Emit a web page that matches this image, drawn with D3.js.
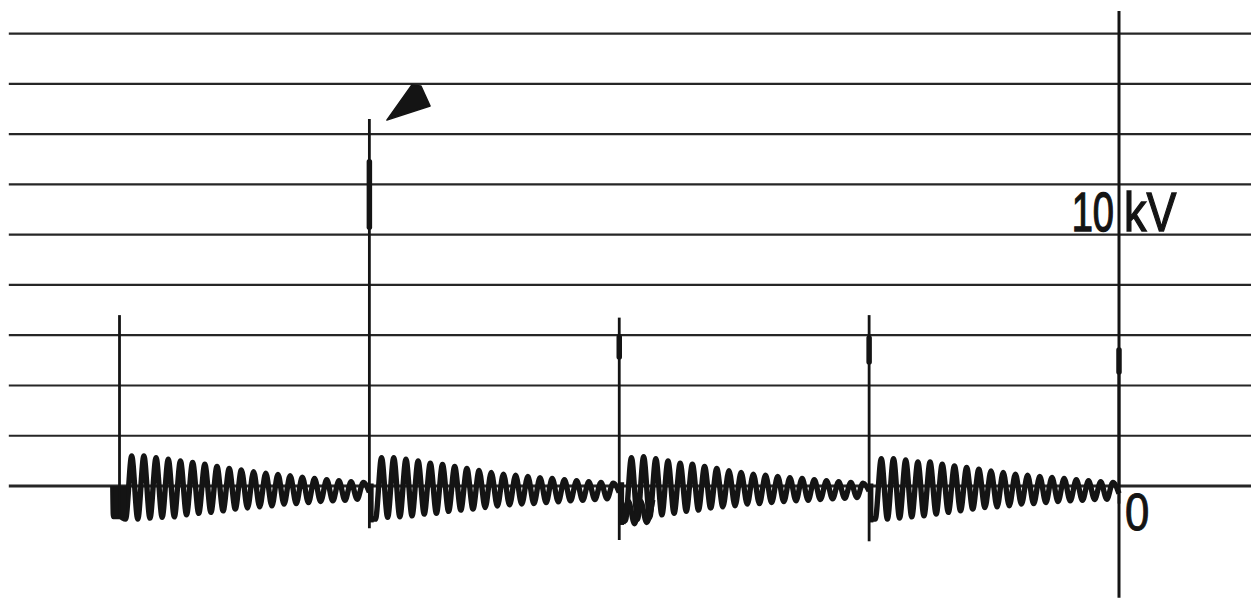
<!DOCTYPE html>
<html>
<head>
<meta charset="utf-8">
<script src="https://cdn.jsdelivr.net/npm/d3@7"></script>
<style>
  html, body { margin: 0; padding: 0; background: #fff; }
  svg { display: block; }
</style>
</head>
<body>
<svg id="chart" width="1251" height="598"></svg>
<script>
// ---------------- data ----------------
// time in units of one discharge interval, voltage in kV
const spikeTimes      = [0, 1, 2, 3, 4];
const spikeTopKV      = [6.8, 14.6, 6.7, 6.8, 5.4];
const spikeBottomKV   = [-1.25, -1.68, -2.15, -2.2, -0.7];
const spikeHeavyTopKV = [null, 12.9, 5.93, 5.89, 5.41];
const spikeHeavyBotKV = [null, 10.3, 5.13, 4.93, 4.54];

// damped ringing after each discharge: 20 positive and 20 negative extrema per interval
const burst1Peaks   = [1.20, 1.20, 1.13, 1.07, 1.00, 0.94, 0.87, 0.78, 0.70, 0.64, 0.57, 0.51, 0.46, 0.41, 0.35, 0.30, 0.25, 0.21, 0.17, 0.14];
const burst1Troughs = [-1.32, -1.32, -1.28, -1.25, -1.23, -1.15, -1.09, -1.05, -0.99, -0.92, -0.88, -0.83, -0.79, -0.72, -0.70, -0.66, -0.62, -0.59, -0.57, -0.53];
const burst2Peaks   = [1.13, 1.13, 1.07, 1.00, 0.91, 0.86, 0.78, 0.70, 0.62, 0.54, 0.47, 0.43, 0.38, 0.33, 0.30, 0.25, 0.21, 0.17, 0.14, 0.11];
const burst2Troughs = [-1.32, -1.25, -1.23, -1.19, -1.12, -1.09, -1.01, -0.96, -0.92, -0.86, -0.80, -0.75, -0.72, -0.70, -0.66, -0.63, -0.59, -0.57, -0.54, -0.51];
const burst3Peaks   = [1.13, 1.17, 1.09, 1.00, 0.91, 0.87, 0.78, 0.70, 0.61, 0.54, 0.47, 0.43, 0.38, 0.33, 0.30, 0.25, 0.21, 0.17, 0.14, 0.11];
const burst3Troughs = [-1.38, -1.32, -1.25, -1.15, -1.09, -1.01, -0.96, -0.88, -0.83, -0.79, -0.72, -0.70, -0.66, -0.62, -0.59, -0.57, -0.54, -0.51, -0.49, -0.46];
const burst4Peaks   = [1.09, 1.09, 1.04, 0.96, 0.96, 0.87, 0.80, 0.74, 0.67, 0.60, 0.54, 0.47, 0.43, 0.38, 0.34, 0.30, 0.25, 0.21, 0.17, 0.14];
const burst4Troughs = [-1.32, -1.32, -1.28, -1.23, -1.19, -1.12, -1.05, -0.99, -0.92, -0.86, -0.83, -0.79, -0.72, -0.70, -0.66, -0.62, -0.59, -0.57, -0.54, -0.53];
const burstStartKV  = [-1.22, -1.3, -1.35, -1.3];
const burstEndKV    = [-0.25, -0.25, -0.2, -0.3];
const cyclesPerInterval = 20.5;
// lead-in of the trace before the first discharge (cycle offsets, kV)
const leadInCycles = [-0.55, -0.5];
const leadInKV     = [0, -1.22];
// onset blocks right after each discharge (kV band, width in cycles)
const onsetTopKV    = [0.0, 0.1, 0.15, 0.1];
const onsetBottomKV = [-1.25, -1.45, -1.55, -1.45];
const onsetCycles   = [0.55, 0.35, 0.4, 0.35];
// second (double-exposed) trace at the start of the third interval (cycle offsets, kV)
const echo3Cycles = [0.3, 0.75, 1.25, 1.75, 2.25, 2.75];
const echo3KV     = [-1.5, -0.6, -1.5, -0.6, -1.45, -0.55];

// grid / axis
const gridKV         = [0, 2, 4, 6, 8, 10, 12, 14, 16, 18];
const gridTimeRange  = [-0.443, 4.53];
const axisTime       = 4;
const axisKVRange    = [-4.45, 18.9];
const scaleLabelKV   = 10;
const scaleLabels    = ["10", "kV"];
const zeroLabel      = "0";

// marker pointing at the large discharge (time, kV)
const markerTimes = [1.070, 1.243, 1.206, 1.170];
const markerKV    = [14.56, 15.12, 15.92, 15.96];

// ---------------- drawing ----------------
const svg = d3.select("#chart");
const x = d3.scaleLinear().domain([0, 4]).range([119.5, 1119]);
const y = d3.scaleLinear().domain([0, 10]).range([486, 234.7]);
const ink = "#141414";

// horizontal grid
svg.append("g").selectAll("line").data(gridKV).join("line")
  .attr("x1", x(gridTimeRange[0])).attr("x2", x(gridTimeRange[1]))
  .attr("y1", d => y(d)).attr("y2", d => y(d))
  .attr("stroke", "#262626")
  .attr("stroke-width", d => d === 0 ? 3 : 2.2);

// vertical axis
svg.append("line")
  .attr("x1", x(axisTime)).attr("x2", x(axisTime))
  .attr("y1", y(axisKVRange[1])).attr("y2", y(axisKVRange[0]))
  .attr("stroke", ink).attr("stroke-width", 3);

// ringing traces
const bursts = [
  [burst1Peaks, burst1Troughs],
  [burst2Peaks, burst2Troughs],
  [burst3Peaks, burst3Troughs],
  [burst4Peaks, burst4Troughs]
];
const line = d3.line()
  .x(d => d.px).y(d => y(d.v))
  .curve(d3.curveMonotoneX);

bursts.forEach(([peaks, troughs], i) => {
  const c = d3.scaleLinear().domain([0, cyclesPerInterval])
    .range([x(spikeTimes[i]), x(spikeTimes[i + 1])]);
  const pts = [];
  if (i === 0) leadInCycles.forEach((cc, k) => pts.push({px: c(cc), v: leadInKV[k]}));
  pts.push({px: c(0), v: burstStartKV[i]});
  peaks.forEach((p, n) => {
    pts.push({px: c(n + 0.5), v: troughs[n]});
    pts.push({px: c(n + 1), v: p});
  });
  pts.push({px: c(cyclesPerInterval), v: burstEndKV[i]});
  svg.append("path").attr("d", line(pts))
    .attr("fill", "none").attr("stroke", ink)
    .attr("stroke-width", 5.4).attr("stroke-linejoin", "round");

  // onset block
  const x0 = i === 0 ? c(leadInCycles[1]) : c(0);
  svg.append("rect")
    .attr("x", x0).attr("width", c(onsetCycles[i]) - x0)
    .attr("y", y(onsetTopKV[i])).attr("height", y(onsetBottomKV[i]) - y(onsetTopKV[i]))
    .attr("fill", ink);

  if (i === 2) {
    svg.append("path")
      .attr("d", line(echo3Cycles.map((cc, k) => ({px: c(cc), v: echo3KV[k]}))))
      .attr("fill", "none").attr("stroke", ink)
      .attr("stroke-width", 5.4).attr("stroke-linejoin", "round");
  }
});

// discharge spikes
const spikes = spikeTimes.map((t, i) => ({t, top: spikeTopKV[i], bot: spikeBottomKV[i],
  h1: spikeHeavyTopKV[i], h2: spikeHeavyBotKV[i]}));
svg.append("g").selectAll("line").data(spikes).join("line")
  .attr("x1", d => x(d.t)).attr("x2", d => x(d.t))
  .attr("y1", d => y(d.top)).attr("y2", d => y(d.bot))
  .attr("stroke", ink).attr("stroke-width", 2.8);
svg.append("g").selectAll("line").data(spikes.filter(d => d.h1 !== null)).join("line")
  .attr("x1", d => x(d.t)).attr("x2", d => x(d.t))
  .attr("y1", d => y(d.h1)).attr("y2", d => y(d.h2))
  .attr("stroke", ink).attr("stroke-width", 5.5).attr("stroke-linecap", "round");

// marker triangle
svg.append("polygon")
  .attr("points", markerTimes.map((t, i) => [x(t), y(markerKV[i])].join(",")).join(" "))
  .attr("fill", ink).attr("stroke", ink).attr("stroke-width", 1.5).attr("stroke-linejoin", "round");

// labels (horizontally condensed lettering)
const font = "'Liberation Sans', Arial, sans-serif";
function label(txt, px, py, size, sx, anchor, sw) {
  svg.append("text").text(txt)
    .attr("transform", `translate(${px},${py}) scale(${sx},1)`)
    .attr("text-anchor", anchor)
    .attr("font-family", font).attr("font-size", size)
    .attr("fill", ink).attr("stroke", ink).attr("stroke-width", sw);
}
label(scaleLabels[0], x(axisTime) - 5, y(scaleLabelKV) - 4, 56, 0.68, "end", 1.4);
label(scaleLabels[1], x(axisTime) + 5, y(scaleLabelKV) - 4, 56, 0.8, "start", 1.4);
label(zeroLabel, x(axisTime) + 6, y(0) + 44, 52, 0.84, "start", 1.0);
</script>
</body>
</html>
